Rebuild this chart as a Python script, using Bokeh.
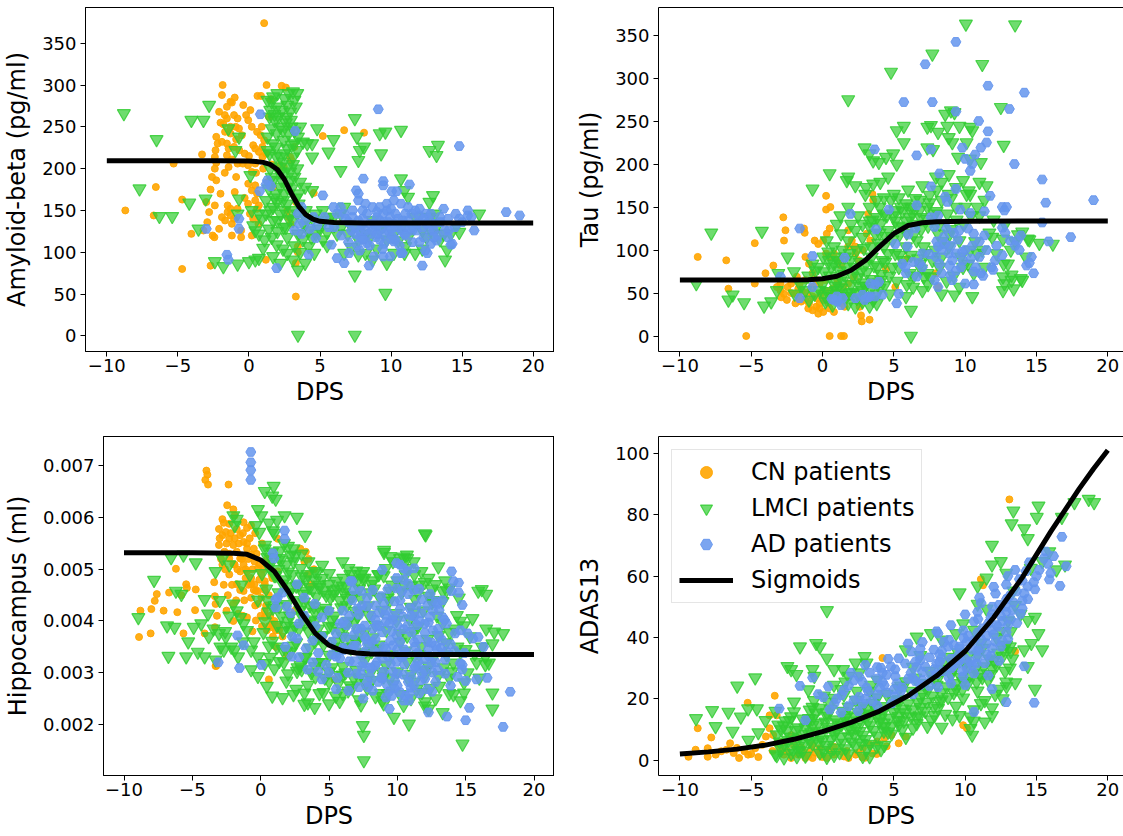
from bokeh.plotting import figure
from bokeh.layouts import column, row
from bokeh.models import Range1d, FixedTicker, LinearAxis, PrintfTickFormatter
from bokeh.embed import file_html
from bokeh.resources import INLINE

# ---------------- data ----------------
dps_ticks = [-10, -5, 0, 5, 10, 15, 20]

# Panel 1: Amyloid-beta
amy_cn = [(1.07,374),(-1.85,300),(-1.9,288),(1.24,300),(2.3,299),(2.6,297),(0.6,287),(0.85,287),(1.55,283),
 (-1.55,274),(-1.3,280),(-1.2,279),(-1.05,264),(-1.7,264),(-1.55,260),(-0.8,260),(-0.2,264),(-0.05,258),
 (-1.8,253),(-1.3,250),(-0.93,250),(-0.7,248),(-1.68,244),(-1.3,242),(0.2,250),(0.57,244),(0.82,240),
 (1.07,234),(0.95,226),(-2.3,238),(-2.2,230),(-2.35,222),(-1.55,230),(-1.43,224),(-1.05,226),(-0.68,222),
 (-0.3,218),(-3.3,217),(-2.4,214),(-2.3,207),(-2.4,200),(-1.55,216),(-1.2,211),(-0.8,206),(-0.43,206),
 (-0.06,204),(0.44,206),(-1.43,202),(-2.3,186),(-5.3,206),(0.2,196),(-0.05,182),(0.2,174),(0.44,180),
 (0.57,170),(1.3,184),(1.7,178),(2.2,204),(2.45,202),(2.9,214),(3.0,210),(3.2,226),(4.56,171),(5.2,239),
 (6.7,246),(8.1,243),(-6.55,178),(-8.7,150),(-4.7,163),(-2.8,148),(-2.93,136),(-3.2,126),(-2.4,156),
 (-4.05,122),(-2.55,120),(-2.43,118),(-1.5,156),(-1.3,152),(-1.5,148),(-1.3,144),(-1.05,140),(-1.2,134),
 (-1.68,138),(-0.55,126),(-0.55,118),(0.67,134),(1.19,91),(-2.7,84),(-4.7,80),(-6.7,144),(3.3,160),
 (3.3,87),(3.3,47),(3.44,107),(3.44,100),(2.7,150),(2.8,142),(2.94,134),(0.44,162),(0.57,152),(0.7,156),
 (-0.06,158),(0.07,146),(0.7,220),(0.95,214),(0.44,224),
 (-2.1,268),(-1.0,285),(-0.4,276),(0.1,270),(-2.0,255),(-0.5,240),(-1.9,232),(-0.9,235),(0.3,228),
 (-2.6,190),(-1.7,195),(-0.9,190),(0.0,215),(0.5,195),(1.0,200),(-1.0,172),(-2.0,170),(-0.3,165),
 (0.9,250),(1.4,262),(1.2,218),(1.6,205),(-2.7,175),(-3.0,160),(-1.9,142),(-0.8,152),(0.3,140),
 (-1.2,120),(-2.1,128),(0.2,120)]
amy_lmci = [(1.3,282),(1.7,286),(1.95,274),(2.3,270),(2.7,276),(3.1,292),(3.2,282),(3.3,274),(1.45,262),
 (1.8,258),(2.2,250),(2.6,262),(2.95,258),(1.95,242),(1.3,238),(1.7,230),(2.45,234),(2.8,242),(3.2,230),
 (3.45,238),(1.45,218),(2.2,214),(2.7,224),(3.1,214),(1.95,202),(2.45,194),(2.7,202),(1.7,186),(2.2,178),
 (2.7,178),(3.2,190),(3.6,184),(3.95,178),(4.45,174),(1.2,162),(1.7,154),(2.2,146),(2.7,158),(1.2,146),
 (1.7,138),(2.45,130),(3.1,138),(3.45,122),(3.8,115),(4.2,126),(1.7,95),(2.2,87),(2.7,99),(1.95,109),
 (3.1,91),(3.45,79),(3.95,87),(4.2,107),(4.6,99),
 (4.8,248),(5.95,235),(5.6,220),(4.45,214),(4.45,230),(3.8,232),(4.1,230),(6.45,198),(5.2,150),(5.7,142),
 (6.45,146),(7.45,260),(7.6,238),(7.7,210),(7.8,222),(8.1,226),(9.2,242),(9.3,218),(9.6,244),(10.7,246),
 (10.7,188),(11.2,166),(10.95,174),(12.7,222),(13.2,216),(13.3,228),(12.7,160),(12.95,168),(13.1,146),
 (16.2,146),(14.8,124),(13.95,103),(13.8,91),(7.45,73),(9.6,51),(7.45,1),(3.45,1),
 (4.7,146),(5.2,138),(5.95,142),(6.7,154),(6.95,122),(7.7,115),(8.2,122),(8.7,138),(9.2,126),(9.7,115),
 (10.2,122),(10.7,130),(11.2,118),(11.7,142),(12.2,126),(12.7,142),(13.45,115),(14.2,122),(4.7,122),
 (5.2,115),(6.2,122),(6.7,99),(7.7,97),(8.2,99),(8.7,91),(9.7,87),(10.2,99),(10.95,99),(11.7,99),
 (12.95,122),(13.7,122),
 (-8.8,266),(-6.5,235),(-7.7,176),(-6.3,143),(-5.4,143),(-4.2,159),(-3.55,128),(-3.05,164),(-2.8,276),
 (-4.05,258),(-3.2,258),(-2.4,89),(-1.8,83),(-0.8,86),(0.0,89),(0.45,91),(0.7,93),(-0.7,164),(-0.8,146),
 (-1.45,248),(-0.7,238),(-0.95,222),(0.1,192),(0.45,126),(1.1,115),(0.7,122),(0.2,150),(0.7,146),
 (1.5,270),(2.0,290),(2.5,284),(2.9,268),(3.4,290),(1.6,248),(2.1,262),(2.4,246),(3.0,250),(3.6,250),
 (1.3,222),(1.9,226),(2.5,218),(3.0,228),(3.4,222),(1.5,200),(2.2,196),(2.9,196),(3.4,200),(1.4,176),
 (1.9,170),(2.5,170),(3.0,176),(3.5,170),(1.5,150),(2.0,160),(2.5,150),(3.0,150),(3.5,158),(4.0,150),
 (1.4,128),(2.0,125),(2.7,118),(3.2,108),(3.9,132),(4.5,140),(2.4,104),(3.6,100),(4.4,118),(5.0,128),
 (5.5,124),(6.0,132),(6.5,130),(7.3,128),(7.9,132),(8.5,118),(9.5,132),(10.5,114),(11.5,130),(12.5,118),
 (13.2,130),(14.6,132),(5.5,108),(7.2,106),(9.0,104),(11.0,107),(12.2,104),(0.9,140),(0.3,132),(1.0,105),
 (1.6,280),(2.8,290),(1.8,265),(2.6,255),(3.2,245),(1.9,215),(2.4,208),(3.1,205),(1.6,190),(2.3,186),
 (2.9,186),(1.8,165),(2.4,162),(3.3,165),(2.0,138),(2.8,140),(3.4,146),(4.0,140),(1.6,118),(2.6,130)]
amy_ad = [(0.8,265),(3.25,245),(9.1,271),(14.8,227),(1.3,186),(1.2,181),(1.55,179),(0.75,173),(8.05,188),
 (9.45,185),(9.45,180),(11.3,181),(10.05,173),(10.4,173),(7.55,174),(7.7,170),(5.2,168),(-0.7,140),
 (-0.7,128),(-3.0,128),(-1.55,97),(-1.45,91),(1.95,81),(4.2,97),(4.7,117),(5.8,109),(6.2,93),(6.7,87),
 (7.05,99),(8.45,84),(8.8,95),(9.45,95),(9.95,95),(10.2,113),(10.7,99),(10.8,99),(12.2,84),(12.55,99),
 (13.2,114),(14.2,109),(14.3,110),(13.7,152),(14.55,146),(15.4,150),(15.85,126),(18.1,148),(19.05,144),
 (15.4,144),(15.65,142),(13.8,126),(14.05,126),(12.7,126),
 (6.45,154),(6.7,146),(7.3,142),(7.7,138),(7.95,132),(8.2,126),(8.45,122),(8.7,126),(8.95,130),(9.2,138),
 (9.45,146),(9.7,150),(9.95,142),(10.2,134),(10.45,130),(10.7,126),(10.95,122),(11.2,138),(11.45,146),
 (11.7,150),(11.95,138),(12.2,130),(12.45,146),(12.7,138),(13.05,134),(13.45,142),(7.45,122),(7.8,118),
 (8.05,115),(8.3,111),(8.95,118),(9.2,115),(9.55,122),(9.8,126),(10.05,120),(10.3,115),(7.2,126),
 (7.7,162),(8.2,158),(8.7,154),(9.2,154),(9.7,158),(10.2,162),(10.7,158),(11.2,154),(11.8,126),(12.3,118),
 (3.45,146),(3.55,134),(3.7,122),(3.2,126),(3.95,138),(3.7,154),(4.55,142),(5.3,142),(5.95,154),
 (7.0,136),(7.5,130),(8.0,140),(8.5,134),(9.0,142),(9.5,136),(10.0,128),(10.5,140),(11.0,132),(11.5,126),
 (12.0,144),(12.5,134),(13.0,126),(13.5,136),(14.0,140),(14.5,130),(15.0,136),(8.0,150),(9.0,148),
 (10.0,152),(11.0,146),(12.0,152),(6.0,130),(6.5,120),(7.0,112),(8.5,108),(9.5,110),(11.5,112),(12.8,110),
 (7.8,102),
 (6.8,140),(7.3,150),(7.8,126),(8.3,146),(8.8,134),(9.3,128),(9.8,136),(10.3,146),(10.8,138),(11.3,128),
 (11.8,134),(12.3,140),(12.8,146),(13.3,120),(8.0,116),(9.0,122),(10.0,116),(11.0,120),(12.0,112),(13.0,118),
 (14.0,118),(14.8,140),(6.2,146),(5.6,130),(4.8,132),(4.3,128),(7.6,108),(10.6,108),(12.4,102),(9.4,104)]
amy_curve_x = [-10, -5, -2, 0, 0.5, 1, 1.5, 2, 2.5, 3, 3.5, 4, 4.5, 5, 6, 8, 10, 15, 20]
amy_curve_y = [209.5, 209.5, 209.4, 209, 208.5, 207.5, 205, 199, 187, 170, 155, 145, 139.5, 137, 135.5, 135, 135, 135, 135]

# Panel 2: Tau
tau_cn = [(-8.75,92),(-6.75,88),(-4.75,108),(-6.6,55),(-4.75,61),(-4.0,73),(-5.35,0),(-3.45,82),(-2.75,138),
 (-2.6,123),(-2.7,111),(-2.95,61),(-2.45,57),(-2.2,61),(-1.95,49),(-1.7,46),(-1.45,53),(-1.2,42),(-0.95,38),
 (-0.7,46),(-0.45,34),(-0.2,38),(-0.7,57),(-1.2,65),(-1.3,125),(-1.25,120),(-1.2,92),(-0.95,84),(-0.55,111),
 (-0.3,107),(0.05,111),(0.3,119),(0.5,125),(0.25,163),(0.25,147),(0.55,150),(0.25,96),(0.5,92),(0.8,96),
 (1.05,88),(1.3,82),(0.8,49),(1.05,42),(1.3,38),(1.55,34),(0.8,28),(0.5,0),(1.3,0),(1.5,0),(1.8,123),
 (2.05,111),(2.3,96),(2.55,88),(1.8,104),(2.3,104),(2.8,100),(2.7,24),(2.75,17),(3.3,19),(2.6,34),(3.2,142),
 (3.55,158),(3.5,165),(3.1,119),(3.35,111),(4.45,78),(5.1,57),(5.95,90),(7.95,73),(8.1,57),(-0.7,73),
 (-0.45,65),(-3.2,57),(-2.95,53),(-2.7,49),(-1.8,69),(-1.6,61),(-0.2,61),(0.2,53),(0.45,46),(1.05,65),
 (1.45,57),(1.8,61),(2.2,69),(-0.7,30),(-0.2,32),(0.05,28),
 (-2.5,42),(-2.2,50),(-1.9,38),(-1.5,40),(-1.1,50),(-0.8,55),(-0.4,44),(0.0,42),(0.4,38),(0.7,55),(1.0,60),
 (-2.9,45),(-1.7,55),(-0.1,50),(0.2,65),(1.2,50),(1.6,45),(-1.0,32),(-0.3,26),(0.5,32)]
tau_lmci = [(-8.85,61),(-7.8,120),(-6.6,42),(-6.3,48),(-5.5,39),(-4.1,35),(-3.6,40),(-4.25,122),(-3.2,53),
 (-3.1,73),(-2.45,92),(-0.7,171),(0.5,189),(1.25,140),(1.8,275),(1.7,181),(1.8,185),(2.3,175),(2.95,219),
 (3.3,212),(3.55,204),(3.95,202),(4.45,208),(4.95,212),(5.2,200),(4.8,307),(5.2,239),(5.7,244),(5.7,225),
 (6.2,30),(6.2,0),(7.35,243),(7.6,245),(8.1,237),(7.35,219),(7.75,217),(7.7,328),(8.6,258),(9.0,262),
 (9.25,260),(8.75,244),(9.6,244),(10.35,243),(10.5,239),(8.85,231),(9.1,225),(10.1,225),(9.5,208),
 (10.35,206),(11.1,202),(10.05,363),(11.2,316),(13.5,362),(12.5,266),(12.7,222),(11.5,175),(11.0,179),
 (10.25,169),(10.1,165),(8.85,188),(8.35,179),(7.95,185),(11.9,115),(12.65,113),(13.0,84),(13.25,71),
 (13.9,67),(12.75,61),(13.4,55),(12.65,53),(14.0,121),(14.4,113),(16.15,107),(14.25,92),(7.35,73),(7.1,69),
 (8.35,49),(9.25,48),(10.5,46),(9.6,57),(6.35,57),(5.85,46),(7.0,53),(7.6,69),(4.7,49),(4.35,59),(4.1,65),
 (-1.95,49),(-1.2,53),(-0.95,42),(-0.55,49),(-0.2,53),(0.2,46),(0.55,49),(0.95,53),(1.3,49),(1.7,46),
 (2.05,51),(2.45,49),(2.8,53),(3.2,46),(3.55,42),(3.8,49),
 (-0.7,84),(-0.3,80),(0.05,92),(0.45,88),(0.8,84),(1.2,76),(1.55,92),(1.95,88),(2.3,80),(2.7,76),(3.05,84),
 (3.45,92),(3.85,80),(4.2,88),(4.6,96),
 (0.3,111),(0.8,104),(1.3,119),(1.8,111),(2.3,123),(2.8,115),(3.3,127),(3.7,119),(4.1,131),(4.6,123),
 (5.1,134),(5.6,127),(6.1,138),(6.6,130),
 (3.3,150),(3.8,158),(4.3,161),(4.8,158),(5.35,161),(5.85,154),(6.35,150),(6.85,158),(7.35,150),(7.85,142),
 (6.85,138),(5.85,134),(5.1,146),(4.3,142),(3.8,138),(3.3,134),
 (3.05,173),(3.55,177),(4.05,179),(4.6,185),
 (4.3,104),(5.1,96),(5.85,104),(6.6,111),(7.1,104),(5.35,80),(6.1,73),(6.85,84),
 (8.35,158),(8.85,165),(9.35,173),(9.85,181),(10.35,165),(10.85,150),(11.35,158),(9.35,150),(8.75,142),
 (8.1,119),(8.85,104),(9.6,111),(10.35,100),(10.85,96),(11.35,80),(8.35,92),(9.85,80),(10.6,73),
 (12.65,69),(13.25,65),(14.0,65),
 (0.0,60),(0.5,70),(1.0,62),(1.5,72),(2.0,60),(2.5,68),(3.0,58),(3.5,66),(4.0,56),(0.2,40),(0.7,36),
 (1.2,44),(1.8,38),(2.3,34),(2.8,40),(3.3,35),(3.8,38),(0.4,98),(0.9,92),(1.4,100),(1.9,96),(2.4,100),
 (2.9,102),(3.4,104),(3.9,108),(4.4,116),(4.9,112),(5.4,118),(5.9,120),(6.4,118),(6.9,124),(7.4,128),
 (7.9,130),(4.7,70),(5.2,64),(5.7,88),(6.2,94),(6.7,90),(7.2,96),(7.7,88),(8.2,80),(8.7,64),(9.2,70),
 (9.7,92),(10.2,84),(10.7,110),(11.2,100),(11.7,120),(12.2,96),(12.7,84),(13.2,100),(13.7,118),(14.5,112),
 (15.2,108),(2.5,140),(2.0,130),(1.0,130),(3.0,165),(4.0,150),(5.5,150),(6.5,160),(7.5,164),(5.0,165),
 (6.0,170),(7.0,175),(8.0,170),(9.0,160),(10.0,150),(11.0,140),(12.0,135),(12.8,130),(13.5,110),(4.5,140),
 (5.3,128),(6.3,142),(7.3,136),(8.2,130),(9.0,124),(-1.5,58),(-1.0,70),(-0.5,76),(-2.0,75),(1.3,56),(2.6,58),
 (0.1,75),(0.6,80),(1.1,88),(1.6,80),(2.1,70),(2.6,86),(3.1,74),(3.6,82),(4.1,72),(0.3,52),(0.9,58),
 (1.4,64),(1.9,50),(2.4,44),(2.9,62),(3.4,55),(3.9,62),(4.4,86),(4.9,80),(5.4,94),(5.9,60),(6.4,70),
 (6.9,78),(7.4,60),(7.9,100),(8.4,110),(8.9,118),(9.4,135),(9.9,130),(10.4,140),(5.0,140),(5.6,145),
 (6.2,150),(6.8,146),(7.5,155),(8.0,145),(4.0,120),(3.5,135),(2.8,130),(1.8,150)]
tau_ad = [(9.35,342),(7.2,316),(5.7,272),(7.7,272),(11.6,291),(14.15,283),(13.1,264),(9.35,261),(10.95,250),
 (11.6,238),(11.5,225),(11.1,219),(9.8,219),(10.0,206),(10.5,200),(10.35,192),(10.7,211),(6.6,210),(7.6,217),
 (3.65,217),(13.45,200),(8.2,189),(15.4,182),(15.65,155),(7.6,174),(9.35,171),(11.75,163),(8.6,162),
 (8.75,156),(9.65,147),(10.35,143),(11.35,145),(12.6,150),(12.9,150),(12.75,146),(19.0,158),(17.4,115),
 (15.85,110),(15.4,132),(1.95,142),(4.65,147),(6.6,152),(7.6,138),(8.1,140),(7.85,127),(-1.6,125),
 (3.75,124),(5.1,107),(5.95,104),(9.6,123),(10.6,119),(11.35,117),(12.6,126),(13.15,111),(13.65,111),
 (13.9,117),(12.6,94),(12.1,88),(11.85,80),(11.95,77),(14.65,92),(14.8,73),(14.3,82),(11.0,92),(10.75,80),
 (11.1,73),(11.25,70),(10.6,75),(9.85,88),(9.7,80),(9.35,76),(8.95,71),(8.1,104),(8.35,100),(8.6,107),
 (8.85,96),(9.1,88),(9.35,96),(8.2,84),(7.95,92),(8.35,73),(7.85,65),(8.1,57),(9.1,65),(10.0,61),(10.6,60),
 (6.6,69),(7.0,96),(6.35,86),(5.85,73),(5.35,49),(5.2,38),(5.6,84),(3.95,63),(3.35,61),(3.7,46),(0.8,42),
 (1.05,40),(1.3,36),(0.65,43),(-0.7,93),(1.55,91),(-2.95,69),(-1.6,44),(-0.7,57),(2.3,44),(2.95,42),(3.3,46),
 (8.0,110),(8.5,115),(9.0,105),(9.5,112),(10.0,100),(10.5,105),(11.0,110),(9.2,120),(8.7,125),(10.2,125),
 (9.8,98),(8.9,82),(10.4,90),(11.5,100),(12.2,105),(12.8,120),(13.5,105),(13.8,100),(14.5,85),(7.5,95),
 (7.0,80),(6.8,85),(6.5,125),(6.0,118),(5.8,80),(3.2,45),(2.8,48),(1.0,46),(1.4,44),(3.7,60),(4.2,48)]
tau_curve_x = [-10, -5, -2, -1, 0, 1, 2, 3, 4, 5, 6, 7, 8, 10, 15, 20]
tau_curve_y = [65, 65, 65, 65.5, 66.5, 69.5, 76.5, 88, 104, 119, 128.5, 131.7, 133, 133.5, 133.7, 133.7]

# Panel 3: Hippocampus (ml)
hip_cn = [(-8.9,0.00369),(-8.05,0.00376),(-8.8,0.0042),(-8.0,0.00423),(-7.6,0.00452),(-7.75,0.00439),
 (-7.1,0.0042),(-6.7,0.00455),(-6.1,0.00417),(-6.2,0.00501),(-5.8,0.0045),(-5.45,0.00471),(-5.4,0.00464),
 (-5.65,0.00376),(-4.8,0.00421),(-4.75,0.00461),(-4.1,0.00376),(-3.97,0.00691),(-3.9,0.00683),(-4.05,0.00673),
 (-3.85,0.00664),(-3.4,0.00475),(-3.35,0.00448),(-3.3,0.00433),(-3.2,0.0041),(-3.35,0.00388),(-3.25,0.00313),
 (-2.45,0.00624),(-2.35,0.00664),(-2.0,0.00616),(-1.9,0.00604),
 (-3.05,0.00578),(-2.8,0.00566),(-2.55,0.00572),(-2.3,0.00559),(-2.0,0.00547),(-1.75,0.00534),(-1.5,0.00521),
 (-1.25,0.00509),(-1.0,0.00496),(-0.7,0.00483),(-0.45,0.00471),(-0.2,0.00458),(0.05,0.00445),
 (-3.05,0.00547),(-2.65,0.00534),(-2.3,0.00521),(-1.9,0.00509),(-1.5,0.00496),(-1.1,0.00483),(-0.7,0.00471),
 (-0.35,0.00458),(-1.75,0.00578),(-1.5,0.00566),(-1.25,0.00553),(-1.0,0.0054),(-0.7,0.00528),(-0.45,0.00515),
 (-0.2,0.00502),(0.05,0.0049),(0.3,0.00477),(-2.8,0.00509),(-2.3,0.0049),(-1.75,0.00471),(-1.25,0.00458),
 (-0.7,0.00445),(-0.2,0.00433),(0.3,0.0042),(0.85,0.00395),(1.1,0.00382),(-2.0,0.00433),(-1.65,0.00414),
 (-1.0,0.00407),(-0.35,0.00401),(0.3,0.00407),(0.45,0.00382),(0.85,0.00388),(1.35,0.00382),(-2.8,0.00597),
 (-2.3,0.00588),(-1.25,0.00591),(-0.7,0.00585),(2.9,0.0054),(3.3,0.00534),(3.2,0.00515),(3.45,0.0049),
 (3.7,0.00471),(0.6,0.00287),(1.1,0.0035),(1.9,0.00331),(0.3,0.00471),(0.85,0.00483),(1.25,0.00496),
 (-3.3,0.00313),(-3.2,0.00321),(5.4,0.00287),(1.25,0.00559),
 (-3.0,0.0056),(-2.7,0.0059),(-2.5,0.0055),(-2.2,0.0057),(-1.9,0.0056),(-1.6,0.0055),(-1.3,0.0057),
 (-1.0,0.0055),(-0.8,0.0056),(-0.5,0.0054),(-0.3,0.0053),(-2.9,0.0052),(-2.6,0.005),(-2.3,0.0053),
 (-2.0,0.0051),(-1.7,0.005),(-1.4,0.0052),(-1.1,0.005),(-0.9,0.0052),(-0.6,0.005),(-0.1,0.0051),(0.2,0.005),
 (-2.7,0.0047),(-2.4,0.0045),(-2.1,0.0047),(-1.8,0.0044),(-1.5,0.0046),(-1.2,0.0044),(-0.9,0.0047),
 (-0.5,0.0046),(-0.1,0.0048),(0.3,0.0046),(0.6,0.0045),(-0.4,0.0043),(0.0,0.0041),(0.4,0.0043),(0.7,0.0041),
 (1.0,0.004),(1.3,0.0039),(0.9,0.0037),(1.6,0.0037),(0.6,0.0039),(-2.5,0.0042),(-2.0,0.004),(-1.3,0.0041),
 (-0.6,0.0038),(0.1,0.0039),(-1.0,0.0058),(-0.4,0.0057),(0.1,0.0055),(0.5,0.0052),(0.8,0.0049),(3.5,0.0052),
 (3.9,0.005),(2.5,0.0042)]
hip_lmci = [(-8.95,0.00407),(-7.8,0.00479),(-6.55,0.00523),(-6.85,0.00391),(-6.3,0.00388),(-6.75,0.00332),
 (-5.45,0.00331),(-6.2,0.00458),(-5.8,0.00452),(-5.65,0.00528),(-4.75,0.00513),(-4.9,0.00388),(-4.35,0.00395),
 (-4.1,0.00331),(-3.3,0.00325),(-4.1,0.00442),(-3.85,0.00414),(-3.45,0.00385),(-3.05,0.00376),(-2.95,0.0035),
 (-2.7,0.00344),(-2.55,0.00369),(-2.15,0.0035),(-1.9,0.00344),(-1.65,0.00331),(-2.8,0.00521),(-2.3,0.00509),
 (-3.3,0.00496),(-2.0,0.00604),(-1.75,0.00597),(-1.9,0.00585),(-2.0,0.00433),(-1.75,0.0042),(-1.5,0.00407),
 (-1.25,0.00395),(-1.0,0.00382),(-0.7,0.00344),(-0.2,0.00331),(0.3,0.00318),(-0.7,0.00306),(-0.2,0.00293),
 (0.3,0.00651),(0.85,0.00642),(0.95,0.00661),(1.1,0.00636),(-0.2,0.00616),(0.05,0.00604),(-0.35,0.00585),
 (-0.1,0.00572),(1.75,0.00604),(2.65,0.00601),(3.25,0.00566),(0.45,0.00274),(0.85,0.00255),(1.6,0.00252),
 (2.4,0.00258),(3.2,0.00261),(3.45,0.00242),(3.95,0.00233),(3.2,0.00239),
 (0.32,0.00547),(0.84,0.00534),(1.36,0.00521),(1.88,0.00509),(2.4,0.00515),(2.92,0.00502),(3.44,0.0049),
 (3.96,0.00496),(4.48,0.00483),(5.0,0.00471),(5.52,0.00477),(6.04,0.00483),(6.56,0.0049),(7.08,0.00477),
 (7.6,0.00483),(8.12,0.00471),(8.64,0.0049),(9.16,0.00502),(9.68,0.00515),(10.2,0.00521),(10.72,0.00502),
 (11.24,0.0049),(11.76,0.00496),(12.28,0.00483),(12.8,0.00471),(13.32,0.00458),(13.84,0.00464),
 (15.92,0.00458),(16.18,0.00461),(9.03,0.00537),(12.02,0.00569),
 (-0.2,0.00441),(1.36,0.00428),(3.18,0.00437),(4.74,0.00425),(6.3,0.00444),(7.86,0.0043),(9.42,0.00439),
 (10.98,0.00427),(12.54,0.00436),
 (0.32,0.00399),(1.88,0.0039),(3.7,0.00402),(5.26,0.00388),(6.82,0.00397),(8.38,0.00392),(9.94,0.00401),
 (11.5,0.00389),(13.32,0.00396),(14.88,0.00391),
 (0.84,0.00361),(2.4,0.00352),(3.96,0.0036),(5.52,0.0035),(7.08,0.00362),(8.64,0.00354),(10.2,0.00359),
 (11.76,0.00351),(13.58,0.00358),(16.96,0.00356),
 (1.36,0.00322),(2.92,0.00314),(4.48,0.0032),(6.04,0.00312),(7.6,0.00323),(9.16,0.00315),(10.72,0.00321),
 (12.28,0.00313),(14.1,0.00319),(16.44,0.00316),
 (1.88,0.00284),(3.44,0.00276),(5.0,0.00283),(6.56,0.00275),(8.12,0.00285),(9.68,0.00277),(11.24,0.00282),
 (13.06,0.00274),(14.88,0.00281),
 (5.78,0.00245),(7.34,0.00238),(8.9,0.00246),(10.46,0.00237),(12.02,0.00244),
 (0.58,0.00418),(2.14,0.0041),(3.96,0.00417),(7.08,0.00409),(11.24,0.00416),(14.36,0.00411),
 (1.62,0.0038),(4.48,0.00372),(7.6,0.00379),(10.72,0.00371),(13.84,0.00378),
 (1.88,0.00342),(5.0,0.00334),(8.12,0.00341),(11.24,0.00333),(14.62,0.0034),(15.66,0.00336),
 (2.66,0.00303),(5.78,0.00295),(8.9,0.00302),(12.02,0.00294),(15.14,0.003),
 (0.6,0.00505),(1.1,0.00488),(1.6,0.00472),(2.1,0.00455),(2.6,0.00468),(3.1,0.00452),(3.6,0.00465),
 (4.1,0.00447),(4.6,0.00459),(5.1,0.00445),(1.4,0.00536),(2.2,0.00528),(0.9,0.00575),(1.2,0.00595),
 (2.0,0.00545),(5.6,0.00462),(6.1,0.00455),(6.6,0.00448),(7.2,0.00462),(8.0,0.00455),(8.7,0.00446),
 (9.5,0.00458),(10.5,0.0047),(11.5,0.00455),(12.5,0.00462),(2.8,0.00385),(4.2,0.00368),(5.8,0.0038),
 (6.5,0.00365),(3.3,0.0033),(4.0,0.00292),(6.8,0.0029),(7.8,0.0027),(9.3,0.0026),(10.8,0.00288),
 (11.8,0.00262),(13.8,0.0029),(16.0,0.0029),(15.5,0.00405),(16.5,0.00385),
 (7.55,0.0013),(7.55,0.00179),(7.47,0.00198),(14.77,0.00162),(9.75,0.00214),(10.85,0.00201),(12.02,0.00236),
 (12.28,0.0023),(13.32,0.00223),(16.96,0.0023),(16.96,0.00261),(16.7,0.00319),(16.44,0.00331),(17.09,0.00379),
 (17.74,0.00376),(12.07,0.00567),(14.88,0.00261),(14.62,0.00246),(14.1,0.00258),(9.03,0.00533),
 (10.46,0.00524),(10.72,0.00521),(6.0,0.00515),(6.43,0.00502),(4.09,0.00493),(6.82,0.0048),(7.47,0.00483),
 (7.34,0.0049),
 (0.5,0.00523),(1.5,0.00518),(2.5,0.00526),(3.5,0.00515),(4.5,0.00508),(9.5,0.00525),(10.7,0.00528),
 (11.2,0.00515),(13.0,0.00505),(7.0,0.00497),
 (0.1,0.00492),(1.0,0.00488),(2.0,0.00495),(3.0,0.00486),(4.0,0.00478),(5.0,0.00492),(6.0,0.00468),
 (7.5,0.00496),(8.2,0.00478),(9.0,0.00488),(10.0,0.00478),(11.0,0.00468),(12.0,0.00475),(13.5,0.00478),
 (14.5,0.00445),(16.5,0.00452),
 (0.4,0.00462),(1.3,0.00455),(2.3,0.00466),(3.3,0.00458),(4.3,0.00465),(5.3,0.00452),(6.3,0.00466),
 (7.3,0.00445),(8.3,0.00462),(9.3,0.00445),(10.3,0.00455),(11.3,0.00442),(12.3,0.00448),(13.3,0.00438),
 (0.9,0.00425),(1.9,0.00432),(2.9,0.00421),(3.9,0.00428),(4.9,0.00418),(5.9,0.00426),(6.9,0.00419),
 (7.9,0.00412),(8.9,0.00421),(9.9,0.00415),(10.9,0.00404),(11.9,0.0042),(12.9,0.0041),
 (0.2,0.00378),(1.2,0.00392),(2.2,0.00382),(3.2,0.00395),(4.2,0.00385),(5.2,0.00402),(6.2,0.00388),
 (7.2,0.00375),(8.2,0.00368),(9.2,0.00382),(10.2,0.00376),(11.2,0.0038),(12.2,0.00365),(13.0,0.00372),
 (14.2,0.00385),
 (0.6,0.00352),(1.6,0.00345),(2.6,0.00358),(3.6,0.00348),(4.6,0.00355),(5.6,0.00342),(6.6,0.00348),
 (7.6,0.00338),(8.6,0.00346),(9.6,0.00335),(10.6,0.00342),(11.6,0.00335),(12.6,0.00328),(13.6,0.00335),
 (15.0,0.00345),(16.2,0.0035),
 (1.0,0.00308),(2.0,0.00298),(3.0,0.00306),(4.0,0.00312),(5.0,0.00302),(6.0,0.00296),(7.0,0.00305),
 (8.0,0.00298),(9.0,0.00292),(10.0,0.00302),(11.0,0.00297),(12.0,0.00304),(13.0,0.00295),(14.0,0.00302),
 (2.6,0.00268),(4.6,0.00262),(5.5,0.00255),(6.4,0.00265),(7.2,0.00248),(8.4,0.00254),(9.0,0.0024),
 (10.2,0.00258),(11.4,0.00268),(12.8,0.0025),(13.8,0.0026),
 (0.3,0.0054),(0.8,0.0052),(1.3,0.005),(1.8,0.0048),(2.3,0.0049),(2.8,0.0047),(3.3,0.0048),(3.8,0.0046),
 (4.3,0.0047),(4.8,0.0045),(5.3,0.0046),(5.8,0.0044),(6.3,0.0043),(6.8,0.0045),(7.3,0.0042),
 (0.5,0.0044),(1.0,0.0043),(1.5,0.0041),(2.0,0.004),(2.5,0.0039),(3.0,0.0041),(3.5,0.0038),(4.0,0.004),
 (4.5,0.0037),(5.0,0.0039),(5.5,0.0036),(6.0,0.0037),(6.5,0.0035),(7.0,0.0036),(7.5,0.0034),(8.0,0.0035),
 (0.7,0.0033),(1.2,0.0035),(1.7,0.0032),(2.2,0.0034),(2.7,0.0031),(3.2,0.0033),(3.7,0.003),(4.2,0.0032),
 (4.7,0.0029),(5.2,0.0031),(5.7,0.0028),(6.2,0.003),(6.7,0.0027),(7.2,0.0029),(7.7,0.0028),
 (1.7,0.0055),(2.4,0.0054),(3.0,0.0053),(1.0,0.0057),(0.6,0.0059),(2.9,0.0044),(3.6,0.0043),(4.4,0.0042),
 (5.4,0.0041),(6.4,0.004),(8.6,0.0049),(9.6,0.0047),(10.6,0.0049),(11.6,0.0047),(12.6,0.0044),(13.6,0.0046),
 (14.6,0.004),(15.3,0.0037),(15.8,0.0032),(14.4,0.0035),(13.4,0.0031),(12.4,0.0027),(11.0,0.0025),
 (9.5,0.0029),(8.8,0.0026),(6.0,0.0026),(5.0,0.0024),(4.3,0.0026),(-0.5,0.0036),(-1.3,0.0036),(-2.3,0.0041),
 (-2.6,0.0038),(-1.4,0.0047),(-0.8,0.0049),(-3.0,0.0044),(-4.6,0.0034),(-5.3,0.0036),(-3.8,0.0037)]
hip_ad = [(-0.72,0.00727),(-0.72,0.00707),(-0.72,0.00692),(-0.72,0.00673),(1.75,0.00575),(1.75,0.00559),
 (0.9,0.00531),(0.98,0.00521),(2.66,0.00471),(6.56,0.00477),(9.94,0.00512),(8.9,0.00499),(10.2,0.00509),
 (10.46,0.00502),(10.72,0.00496),(10.46,0.0048),(11.24,0.00502),(9.94,0.00483),(9.94,0.00463),(10.33,0.00458),
 (13.97,0.00496),(14.1,0.00477),(14.49,0.00474),(13.97,0.00458),(14.49,0.00455),(14.75,0.00431),(12.93,0.00433),
 (13.32,0.00407),(13.45,0.00402),(14.23,0.00376),(14.62,0.00382),(15.14,0.00376),(15.53,0.00366),
 (15.92,0.00369),(16.31,0.0035),(14.75,0.00315),(14.75,0.00306),(15.0,0.00284),(15.79,0.00287),(16.57,0.0029),
 (18.26,0.00263),(17.74,0.00195),(15.27,0.00232),(15.0,0.00208),(13.63,0.00215),(12.28,0.00223),
 (10.85,0.00246),(-3.1,0.0032),(-1.55,0.00309),(-1.24,0.00353),(-1.7,0.00372),(0.06,0.00315),(1.1,0.00426),
 (1.1,0.00442),(1.23,0.00445),(2.66,0.00366),(2.27,0.00331),(3.31,0.00347),(4.22,0.00338),(4.48,0.00287),
 (3.44,0.00306),(5.52,0.00268),(6.43,0.00265),(6.69,0.00477),(7.34,0.00458),
 (7.08,0.00424),(8.64,0.00416),(10.2,0.00423),(11.76,0.00415),(13.06,0.00421),
 (6.04,0.00398),(7.6,0.00391),(9.16,0.00399),(10.72,0.0039),(12.28,0.00397),
 (6.82,0.00373),(8.38,0.00365),(9.94,0.00372),(11.5,0.00364),(13.06,0.00371),
 (6.04,0.00348),(7.6,0.0034),(9.16,0.00347),(10.72,0.00339),(12.28,0.00346),(13.58,0.00341),
 (6.82,0.00322),(8.38,0.00314),(9.94,0.00321),(11.5,0.00313),(12.8,0.0032),
 (7.34,0.00297),(8.9,0.00289),(10.46,0.00296),(12.02,0.00288),
 (7.86,0.00272),(9.42,0.00264),(11.0,0.00271),(12.54,0.00263),
 (8.12,0.0041),(9.68,0.00403),(11.24,0.00409),(7.34,0.00385),(8.9,0.00378),(10.46,0.00384),(12.02,0.00377),
 (8.12,0.0036),(9.68,0.00353),(11.24,0.00359),(12.8,0.00352),(7.34,0.00334),(8.9,0.00327),(10.46,0.00333),
 (12.02,0.00326),(8.12,0.00309),(9.68,0.00302),(11.24,0.00308),(9.16,0.00252),(10.46,0.00246),(9.42,0.0023),
 (3.18,0.00445),(3.96,0.00433),(4.48,0.00407),(5.0,0.0042),(5.52,0.00376),(6.04,0.00344),(5.52,0.00331),
 (6.5,0.0041),(7.0,0.00352),(7.8,0.00428),(8.5,0.00392),(9.0,0.00435),(9.6,0.0038),(10.0,0.00345),
 (10.9,0.00425),(11.6,0.004),(12.6,0.00382),(13.3,0.00362),(8.6,0.00282),(10.0,0.00275),(11.7,0.00285),
 (12.6,0.003),(13.5,0.00325),(6.4,0.003),(5.8,0.00395),(5.2,0.0036),(7.5,0.0025),
 (6.3,0.00392),(6.8,0.00352),(7.2,0.00412),(7.7,0.00365),(8.2,0.00385),(8.6,0.00338),(9.1,0.00412),
 (9.5,0.00362),(10.0,0.00392),(10.5,0.00345),(11.0,0.00378),(11.5,0.00338),(12.0,0.00395),(12.5,0.00358),
 (13.0,0.00385),(6.5,0.00322),(7.0,0.00298),(7.5,0.00318),(8.0,0.00292),(8.5,0.0032),(9.0,0.00302),
 (9.5,0.00318),(10.0,0.00298),(10.5,0.00316),(11.0,0.00292),(11.5,0.00322),(12.0,0.00305),(12.5,0.00318),
 (13.0,0.00305),(7.2,0.00272),(8.2,0.00265),(9.2,0.00278),(10.2,0.00262),(11.2,0.00275),(12.2,0.00268),
 (8.8,0.00448),(9.8,0.00438),(10.8,0.00452),(11.8,0.00442),(12.8,0.00438),(7.8,0.00445),(9.3,0.00462),
 (10.8,0.00472),(11.6,0.00462),(12.4,0.00452),(6.2,0.00368),(5.8,0.00328),(5.2,0.00335),(4.8,0.00315),
 (4.2,0.00302),(3.8,0.00362),(2.8,0.00395),(2.2,0.00415),(1.6,0.00455),(1.9,0.00428),(13.6,0.00395),
 (13.9,0.00355),(14.2,0.00342),(14.6,0.00318),(14.9,0.00338),(13.5,0.00298),(13.9,0.00275),(14.4,0.00292),
 (12.9,0.00345),(12.6,0.0042),(11.4,0.0043),(8.4,0.0043),(7.4,0.0043),(6.7,0.0044),(9.8,0.0027),(10.9,0.0026),
 (8.0,0.0031),(9.0,0.0035),(10.2,0.0036),(11.3,0.0035),(12.2,0.0036),(7.6,0.0037),(8.7,0.0039),(9.7,0.0041),
 (11.0,0.0041),
 (7.0,0.00385),(7.8,0.00355),(8.4,0.00402),(9.4,0.00395),(10.4,0.00408),(11.4,0.00392),(12.4,0.00408),
 (6.6,0.00345),(7.4,0.00312),(8.3,0.00342),(9.3,0.00332),(10.3,0.0033),(11.3,0.00312),(12.3,0.00332),
 (13.2,0.00348),(7.8,0.00282),(8.8,0.0029),(9.8,0.00285),(10.8,0.00282),(11.8,0.00298),(12.8,0.00282),
 (9.6,0.00255),(10.6,0.00255),(11.6,0.0026),(6.0,0.0042),(6.8,0.0046),(8.2,0.0046),(9.2,0.0042),(10.2,0.0044),
 (11.2,0.0046),(12.2,0.0043),(13.3,0.0044),(4.5,0.0037),(4.0,0.0039),(3.2,0.0041),(2.3,0.0037),(1.8,0.0035),
 (2.8,0.0033),(3.8,0.0032),(5.0,0.003),(5.6,0.0029)]
hip_curve_x = [-10, -5, -2, -1, 0, 1, 2, 3, 4, 5, 6, 7, 8, 10, 15, 20]
hip_curve_y = [0.00532, 0.00532, 0.00531, 0.00529, 0.00518, 0.00496, 0.00458, 0.00414, 0.00376, 0.00353,
               0.00342, 0.00338, 0.00336, 0.00335, 0.00335, 0.00335]

# Panel 4: ADAS13
adas_cn = [(13.1,85),(11.1,59),(11.25,57),(13.5,35.4),(4.2,33.3),(-3.35,21),(-5.25,18.7),(-8.75,10.4),
 (-7.8,7.4),(-9.4,1.1),(-8.9,3.4),(-8.05,3.9),(-8.05,1.1),(-7.49,1.8),(-7.1,2.9),(-6.73,3.4),(-6.48,5.5),
 (-6.23,2.3),(-5.85,0.7),(-5.47,2.9),(-5.22,1.8),(-4.72,3.9),(-4.22,5.0),(-3.97,7.7),(-3.71,10.4),(-3.46,8.2),
 (-3.21,5.5),(-2.96,3.9),(-2.71,1.8),(-2.2,0.7),(-1.7,1.8),(-1.2,0.7),(-0.7,0.7),(-0.19,1.8),(0.31,0.7),
 (0.81,1.8),(1.32,2.9),(1.82,0.7),(2.32,1.8),(2.82,3.9),(3.33,5.0),(3.83,6.1),(4.33,7.2),(4.84,8.2),
 (-1.7,7.2),(-0.7,5.0),(-0.19,3.9),(-2.2,8.2),(-3.21,14.6),(-3.71,14.6),(10.12,10.4),(9.86,11.4),(5.84,7.7),
 (5.34,5.5),(-2.5,3.0),(-1.5,4.2),(-0.5,2.5),(0.5,3.5),(1.5,1.2),(2.8,0.9),(3.5,2.2),(-1.0,1.5),
 (-6.0,4.0),(-5.0,2.0),(-4.5,1.0),(-3.5,3.0),(-2.8,6.0),(-2.0,4.8),(-1.3,2.6),(-0.8,3.6),(0.0,1.0),
 (0.8,4.4),(1.7,3.0),(2.5,2.5),(3.0,0.8),(3.8,2.0),(4.5,4.5)]
adas_lmci = [(-8.87,13.6),(-7.74,16.2),(-6.6,15.7),(-5.73,14.1),(-5.22,16.8),(-4.72,26.9),(-5.98,24.2),
 (-4.6,16.8),(-2.46,30.6),(-2.2,29.6),(-1.83,28),(-0.7,29.6),(-0.57,27.4),(-1.58,37),(-0.19,37),(0.31,33.3),
 (0.81,29.6),(1.44,29.6),(1.82,27.4),(2.32,31.7),(2.57,28.5),(2.95,33.8),(3.08,31.7),(0.31,48.8),(-0.45,38.1),
 (5.84,36),(6.6,40.2),(7.6,41.3),(8.36,39.2),(9.36,41.3),(9.86,44.5),(10.62,42.4),(9.61,54.6),(10.87,56.8),
 (11.5,59.4),(11.88,63.7),(12.5,64.8),(12.88,61),(13.38,55.2),(14.14,75.5),(13.26,77.1),(13.38,81.3),
 (15.14,82.9),(15.02,79.2),(16.78,79.2),(17.66,84),(18.66,85.1),(19.04,84),(11.88,70.1),(10.87,50.9),
 (11.5,49.3),(14.39,72.3),(15.4,36),(14.89,23.2),(13.51,25.3),(14.39,30.6),(13.13,37),(17.0,63.7),
 (16.4,62.1),(15.9,68),(15.4,64.8),(14.6,62.6),(13.88,47.7),(14.39,45.6),(14.89,46.6),(15.14,41.3),
 (14.64,38.1),(14.14,36),(11.37,12.5),(11.88,14.6),(10.37,10.4),(10.49,8.2),
 (-3.21,1.5),(-2.2,2.2),(-1.2,1.4),(-0.19,2.4),(0.81,1.6),(1.82,2.1),(2.82,1.3),
 (-2.71,5.3),(-1.7,4.6),(-0.7,5.4),(0.31,4.8),(1.32,5.6),(2.32,4.7),(3.33,5.2),(4.33,4.9),
 (-3.21,8.3),(-2.2,7.6),(-1.2,8.4),(-0.19,7.8),(0.81,8.5),(1.82,7.7),(2.82,8.2),(3.83,7.9),(4.84,8.6),(5.84,7.5),
 (-2.71,11.2),(-1.7,10.6),(-0.7,11.4),(0.31,10.8),(1.32,11.5),(2.32,10.7),(3.33,11.3),(4.33,10.9),(5.34,11.6),
 (6.34,10.5),(7.35,11.1),(8.36,10.8),
 (-2.2,14.2),(-0.95,13.6),(0.31,14.4),(1.57,13.8),(2.82,14.5),(4.08,13.7),(5.34,14.3),(6.6,13.9),(7.85,14.6),
 (9.11,13.5),(10.37,14.1),
 (-0.7,17.3),(0.56,16.6),(1.82,17.4),(3.08,16.8),(4.33,17.5),(5.59,16.7),(6.85,17.2),(8.1,16.9),(9.36,17.6),
 (10.62,16.5),(11.88,17.1),
 (0.81,20.2),(2.32,19.6),(3.83,20.4),(5.34,19.8),(6.85,20.5),(8.36,19.7),(9.86,20.3),(11.37,19.5),(12.63,20.1),
 (1.32,23.1),(3.33,22.5),(5.34,23.4),(7.35,22.7),(9.36,23.3),(10.87,22.6),(12.38,23.2),
 (3.83,26.2),(5.84,25.6),(7.85,26.3),(9.86,25.7),(11.62,26.1),(12.88,25.5),
 (6.34,30.3),(8.36,29.6),(10.12,30.4),(11.88,29.8),(13.13,30.1),
 (6.85,34.2),(8.86,33.6),(10.87,34.3),(12.63,33.8),(11.12,38.2),(12.88,37.6),
 (-1.7,3.2),(0.0,6.5),(1.0,9.6),(2.0,12.8),(3.0,6.8),(4.0,12.5),(5.0,15.6),(6.0,18.4),(7.0,21.8),(8.0,24.5),
 (9.0,27.8),(10.0,31.6),(11.0,28.2),(12.0,32.5),(-2.5,9.5),(-1.0,12.8),(-0.5,15.4),(0.5,18.9),(1.5,21.3),
 (2.5,15.7),(3.5,18.6),(4.5,21.5),(5.5,24.2),(6.5,26.8),(7.5,29.0),(8.5,32.0),(9.5,35.1),(12.5,42.0),
 (13.0,45.5),(13.5,50.5),
 (-2.9,3.5),(-2.4,6.5),(-1.9,9.8),(-1.4,3.0),(-0.9,6.2),(-0.4,9.5),(0.1,3.2),(0.6,6.8),(1.1,12.2),(1.6,3.8),
 (2.1,6.0),(2.6,9.4),(3.1,3.6),(3.6,9.8),(4.1,3.5),(-2.6,12.8),(-2.0,15.8),(-1.4,13.5),(-0.9,16.4),
 (-0.3,12.0),(0.3,15.5),(0.9,13.2),(1.4,16.0),(2.0,10.0),(2.7,12.4),(3.2,15.1),(3.8,14.6),(4.3,12.2),
 (4.8,11.0),(5.3,13.0),(5.8,15.5),(6.3,16.5),(6.8,14.5),(7.3,19.0),(7.8,17.5),(8.3,22.0),(8.8,20.5),
 (9.3,25.0),(9.8,23.0),(10.3,27.5),(10.8,25.5),(11.3,30.5),(11.8,28.0),(12.3,35.0),(12.8,29.0),(13.3,33.0),
 (4.6,9.2),(5.6,10.2),(6.6,12.0),(7.6,13.2),(8.6,15.0),(9.6,14.6),(10.6,12.8),(11.1,18.5),(12.1,21.5),
 (12.9,24.0),(5.0,19.5),(6.2,22.5),(7.2,25.0),(8.2,27.5),(9.2,30.0),(10.2,34.0),(11.2,36.5),(12.2,40.0),
 (13.2,42.0),(-3.3,2.0),(-3.1,11.5),(-3.0,6.0),
 (-2.7,0.8),(-2.2,4.0),(-1.7,7.0),(-1.2,10.5),(-0.7,13.5),(-0.2,17.0),(0.3,1.0),(0.8,4.0),(1.3,7.5),
 (1.8,10.5),(2.3,14.0),(2.8,17.5),(3.3,1.2),(3.8,4.5),(4.3,9.5),(-2.9,10.0),(-2.3,13.0),(-1.8,1.2),
 (-1.3,5.5),(-0.8,9.0),(-0.3,6.0),(0.2,12.5),(0.7,10.0),(1.2,2.5),(1.7,14.5),(2.2,8.5),(2.7,5.5),(3.2,12.8),
 (3.7,17.0),(4.2,15.5),(4.7,13.8),(5.2,17.6),(5.7,12.8),(6.2,14.2),(6.7,18.8),(7.2,16.0),(7.7,21.0),
 (8.2,19.2),(8.7,24.0),(9.2,22.0),(9.7,27.0),(10.2,25.0),(10.7,29.5),(11.2,27.0),(11.7,33.0),(12.2,31.0),
 (12.7,36.0),(13.2,35.5),(-0.6,19.5),(0.1,21.0),(0.8,24.5),(1.6,25.5),(2.4,22.5),(3.4,24.5),(-1.0,23.0),
 (-2.0,19.0),(-3.3,16.0),(-4.0,13.0),(-4.5,9.0),(-5.2,6.5),(-6.3,9.5),(-7.5,11.0)]
adas_ad = [(-3.03,16.8),(-1.2,13),(-1.58,24.2),(-0.7,26.9),(0.06,20.5),(14.84,18.7),(14.14,30.6),(17.08,63.2),
 (16.78,72.8),(16.65,56.8),(15.9,58.9),(15.65,68),(15.52,65.8),(14.26,61.6),(14.89,55.7),(14.39,52.5),
 (8.1,41.3),(6.22,35.4),(4.08,30.1),(4.2,28.5),
 (0.81,18.3),(1.82,17.6),(2.82,18.4),(3.83,17.8),(4.84,18.5),
 (1.32,21.2),(2.57,20.6),(3.83,21.4),(5.09,20.8),(6.34,21.5),
 (1.82,24.3),(3.08,23.6),(4.33,24.4),(5.59,23.7),(6.85,24.5),(8.1,23.8),
 (2.57,27.2),(3.83,26.6),(5.09,27.4),(6.34,26.7),(7.6,27.5),(8.86,26.8),(9.86,27.3),
 (3.83,30.3),(5.09,29.6),(6.6,30.4),(7.85,29.7),(9.11,30.5),(10.12,29.8),
 (5.34,33.2),(6.85,32.6),(8.36,33.4),(9.61,32.7),(10.87,33.5),
 (6.85,36.3),(8.36,35.6),(9.61,36.4),(10.87,35.7),(11.88,36.5),
 (8.86,39.2),(10.12,38.6),(11.12,39.4),(12.13,38.7),
 (9.86,42.3),(10.87,41.6),(11.88,42.4),(12.88,41.7),
 (10.62,45.2),(11.62,44.6),(12.63,45.4),(13.63,44.7),
 (10.87,48.3),(11.88,47.6),(12.88,48.4),(13.88,47.7),
 (11.12,51.2),(12.38,50.6),(13.38,51.4),(12.13,54.3),(13.13,53.6),(14.14,54.4),(12.88,57.2),(14.39,56.6),
 (10.37,32.2),(11.37,31.6),(12.38,32.4),(10.62,28.3),(11.62,27.6),(12.88,18.9),(11.88,23.2),(10.62,15.7),
 (9.0,25.0),(10.0,24.5),(7.0,28.8),(8.0,31.5),(9.5,34.0),(11.5,40.5),(12.5,47.0),(13.0,39.5),(14.0,49.5),
 (15.0,60.0),(15.8,64.0),(16.2,66.5),
 (2.2,19.5),(3.2,22.5),(4.2,25.5),(5.2,25.0),(6.2,28.5),(7.2,30.5),(8.2,34.5),(9.2,37.5),(10.2,40.5),
 (11.2,43.0),(12.2,44.0),(13.2,46.0),(1.5,22.8),(2.8,25.5),(4.5,27.8),(5.8,31.5),(7.5,33.5),(8.8,37.0),
 (9.9,39.8),(10.9,46.0),(11.9,50.0),(12.9,52.5),(13.6,55.0),(14.0,58.5),(3.5,19.2),(4.5,22.0),(5.5,22.6),
 (6.5,25.8),(7.5,24.2),(8.5,29.0),(9.5,31.5),(10.5,36.0),(11.5,34.5),(12.5,37.0),(1.0,20.0),(0.4,24.0),
 (-0.3,21.5),(2.0,28.5),(3.0,31.0),(4.6,33.0),(6.0,38.0),(7.0,38.5),(8.0,42.0),(9.0,44.0),(10.0,47.5),
 (11.0,53.0),(12.0,56.5),(13.0,60.0),(13.5,62.0),(14.5,64.5),(15.2,62.0),(16.0,61.0),(10.5,31.0),(11.5,38.0),
 (12.3,43.5),(13.3,49.0),(9.0,33.0),(8.5,38.5),(7.8,36.0),(6.8,34.0),
 (0.5,16.5),(1.3,15.5),(2.5,16.0),(3.0,20.0),(4.0,23.5),(5.0,23.0),(6.0,26.5),(7.0,26.0),(8.0,28.0),
 (9.0,30.0),(10.0,33.0),(11.0,36.5),(12.0,41.0),(13.0,44.0),(14.0,52.0),(2.2,26.0),(3.3,28.5),(4.8,30.5),
 (6.5,32.0),(8.2,32.0),(9.6,37.0),(10.6,39.0),(11.8,46.5),(12.8,50.0),(13.8,59.0),(14.8,58.0),(9.8,29.0),
 (10.8,31.5),(11.8,34.0),(12.6,39.0)]
adas_curve_x = [-10, -8, -6, -4, -2, 0, 2, 4, 6, 8, 10, 12, 14, 15, 16, 17, 18, 19, 20]
adas_curve_y = [2.0, 2.7, 3.6, 4.9, 6.8, 9.3, 12.3, 16.0, 21.0, 27.5, 35.5, 46.5, 59.5, 67, 74.5, 81.5, 88.5, 95, 101]

FONT = "DejaVu Sans"


def xs(pts):
    return [p[0] for p in pts]


def ys(pts):
    return [p[1] for p in pts]


def make_fig(width, height, mbl, mbt, mbb, xr, yr, yticks, ylabel, right_panel, yfmt=None):
    p = figure(width=width, height=height, output_backend="svg", toolbar_location=None,
               x_range=Range1d(*xr), y_range=Range1d(*yr),
               min_border_left=mbl, min_border_right=0, min_border_top=mbt, min_border_bottom=mbb)
    p.xgrid.visible = False
    p.ygrid.visible = False
    p.background_fill_color = "white"
    p.border_fill_color = "white"
    if right_panel:
        p.outline_line_color = None
    else:
        p.outline_line_color = "black"
        p.outline_line_alpha = 1.0
        p.outline_line_width = 1
    top = LinearAxis(ticker=FixedTicker(ticks=[]), major_tick_out=0, major_tick_in=0,
                     minor_tick_out=0, minor_tick_in=0, major_label_standoff=0,
                     axis_line_color="black", axis_line_width=1)
    p.add_layout(top, "above")
    xax = p.below[0]
    yax = p.left[0]
    for ax in (xax, yax):
        ax.axis_line_color = "black"
        ax.axis_line_width = 1
        ax.major_tick_out = 5
        ax.major_tick_in = 0
        ax.minor_tick_out = 0
        ax.minor_tick_in = 0
        ax.major_tick_line_color = "black"
        ax.major_label_text_font = FONT
        ax.major_label_text_font_size = "18px"
        ax.major_label_text_color = "black"
        ax.axis_label_text_font = FONT
        ax.axis_label_text_font_size = "24px"
        ax.axis_label_text_font_style = "normal"
        ax.axis_label_text_color = "black"
    xax.ticker = FixedTicker(ticks=dps_ticks)
    xax.major_label_overrides = {-10: "\u221210", -5: "\u22125"}
    xax.axis_label = "DPS"
    xax.major_label_standoff = 2
    xax.axis_label_standoff = 3
    yax.ticker = FixedTicker(ticks=yticks)
    if yfmt is not None:
        yax.formatter = yfmt
    yax.axis_label = ylabel
    yax.major_label_standoff = 4
    yax.axis_label_standoff = 8
    return p


def draw(p, cn, lmci, ad, cx, cy, legend=False):
    kw = lambda lab: {"legend_label": lab} if legend else {}
    p.scatter(xs(cn), ys(cn), marker="circle", size=7, fill_color="orange", line_color="orange",
              fill_alpha=0.9, line_alpha=0.9, **kw("CN patients"))
    p.scatter(xs(lmci), ys(lmci), marker="inverted_triangle", size=13, fill_color="limegreen",
              line_color="limegreen", fill_alpha=0.7, line_alpha=0.85, line_width=1.2, **kw("LMCI patients"))
    p.scatter(xs(ad), ys(ad), marker="hex", size=10, fill_color="cornflowerblue", line_color="cornflowerblue",
              fill_alpha=0.85, line_alpha=0.9, **kw("AD patients"))
    p.line(cx, cy, line_width=5, line_color="black", **kw("Sigmoids"))


TOP_H, BOT_H = 428, 406
LW, RW = 554, 569

p1 = make_fig(LW, TOP_H, 85, 7, 77, (-11.5, 21.5), (-18.7, 392.7),
              [0, 50, 100, 150, 200, 250, 300, 350], "Amyloid-beta (pg/ml)", False)
draw(p1, amy_cn, amy_lmci, amy_ad, amy_curve_x, amy_curve_y)

p2 = make_fig(RW, TOP_H, 104, 7, 77, (-11.5, 21.1), (-18.0, 382.0),
              [0, 50, 100, 150, 200, 250, 300, 350], "Tau (pg/ml)", True)
draw(p2, tau_cn, tau_lmci, tau_ad, tau_curve_x, tau_curve_y)

p3 = make_fig(LW, BOT_H, 102, 8, 59, (-11.5, 21.5), (0.00101, 0.00757),
              [0.002, 0.003, 0.004, 0.005, 0.006, 0.007], "Hippocampus (ml)", False,
              yfmt=PrintfTickFormatter(format="%.3f"))
draw(p3, hip_cn, hip_lmci, hip_ad, hip_curve_x, hip_curve_y)

p4 = make_fig(RW, BOT_H, 104, 8, 59, (-11.5, 21.1), (-5.0, 105.5),
              [0, 20, 40, 60, 80, 100], "ADAS13", True)
draw(p4, adas_cn, adas_lmci, adas_ad, adas_curve_x, adas_curve_y, legend=True)

lg = p4.legend[0]
lg.location = "top_left"
lg.margin = 13
lg.padding = 7
lg.spacing = 6
lg.glyph_height = 30
lg.glyph_width = 54
lg.label_height = 30
lg.label_standoff = 18
lg.label_text_font = FONT
lg.label_text_font_size = "24px"
lg.label_text_color = "black"
lg.border_line_color = "#cccccc"
lg.border_line_width = 1
lg.background_fill_color = "white"
lg.background_fill_alpha = 0.8

layout = column(row(p1, p2), row(p3, p4))

open("out.html", "w").write(file_html(layout, INLINE))
